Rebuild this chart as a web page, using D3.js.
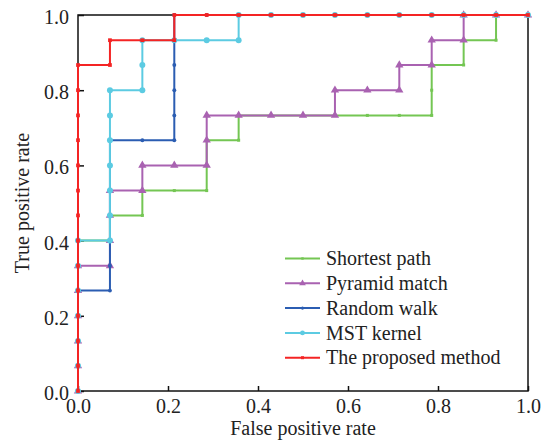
<!DOCTYPE html>
<html>
<head>
<meta charset="utf-8">
<script src="https://cdn.jsdelivr.net/npm/d3@7"></script>
<style>
  body { margin: 0; background: #fff; }
</style>
</head>
<body>
<script>
'use strict';

// ROC curve points [false positive rate, true positive rate]
const shortestPath = [
  [0, 0], [0, 0.067], [0, 0.133], [0, 0.2], [0, 0.267], [0, 0.333], [0, 0.4],
  [0.071, 0.4], [0.071, 0.467], [0.143, 0.467], [0.143, 0.533], [0.214, 0.533],
  [0.286, 0.533], [0.286, 0.6], [0.286, 0.667], [0.357, 0.667], [0.357, 0.733],
  [0.429, 0.733], [0.5, 0.733], [0.571, 0.733], [0.643, 0.733], [0.714, 0.733],
  [0.786, 0.733], [0.786, 0.8], [0.786, 0.867], [0.857, 0.867], [0.857, 0.933],
  [0.929, 0.933], [0.929, 1], [1, 1]
];
const pyramidMatch = [
  [0, 0], [0, 0.067], [0, 0.133], [0, 0.2], [0, 0.267], [0, 0.333],
  [0.071, 0.333], [0.071, 0.4], [0.071, 0.467], [0.071, 0.533], [0.143, 0.533],
  [0.143, 0.6], [0.214, 0.6], [0.286, 0.6], [0.286, 0.667], [0.286, 0.733],
  [0.357, 0.733], [0.429, 0.733], [0.5, 0.733], [0.571, 0.733], [0.571, 0.8],
  [0.643, 0.8], [0.714, 0.8], [0.714, 0.867], [0.786, 0.867], [0.786, 0.933],
  [0.857, 0.933], [0.857, 1], [0.929, 1], [1, 1]
];
const randomWalk = [
  [0, 0], [0, 0.067], [0, 0.133], [0, 0.2], [0, 0.267],
  [0.071, 0.267], [0.071, 0.333], [0.071, 0.4], [0.071, 0.467], [0.071, 0.533],
  [0.071, 0.6], [0.071, 0.667], [0.143, 0.667], [0.214, 0.667], [0.214, 0.733],
  [0.214, 0.8], [0.214, 0.867], [0.214, 0.933], [0.214, 1], [0.286, 1],
  [0.357, 1], [0.429, 1], [0.5, 1], [0.571, 1], [0.643, 1], [0.714, 1],
  [0.786, 1], [0.857, 1], [0.929, 1], [1, 1]
];
const mstKernel = [
  [0, 0], [0, 0.067], [0, 0.133], [0, 0.2], [0, 0.267], [0, 0.333], [0, 0.4],
  [0.071, 0.4], [0.071, 0.467], [0.071, 0.533], [0.071, 0.6], [0.071, 0.667],
  [0.071, 0.733], [0.071, 0.8], [0.143, 0.8], [0.143, 0.867], [0.143, 0.933],
  [0.214, 0.933], [0.286, 0.933], [0.357, 0.933], [0.357, 1], [0.429, 1],
  [0.5, 1], [0.571, 1], [0.643, 1], [0.714, 1], [0.786, 1], [0.857, 1],
  [0.929, 1], [1, 1]
];
const proposedMethod = [
  [0, 0], [0, 0.067], [0, 0.133], [0, 0.2], [0, 0.267], [0, 0.333], [0, 0.4],
  [0, 0.467], [0, 0.533], [0, 0.6], [0, 0.667], [0, 0.733], [0, 0.8], [0, 0.867],
  [0.071, 0.867], [0.071, 0.933], [0.143, 0.933], [0.214, 0.933], [0.214, 1],
  [0.286, 1], [0.357, 1], [0.429, 1], [0.5, 1], [0.571, 1], [0.643, 1],
  [0.714, 1], [0.786, 1], [0.857, 1], [0.929, 1], [1, 1]
];

const seriesNames = ["Shortest path", "Pyramid match", "Random walk", "MST kernel", "The proposed method"];
const seriesData = [shortestPath, pyramidMatch, randomWalk, mstKernel, proposedMethod];
const seriesColors = ["#74c653", "#a962b1", "#2b5db2", "#5ccbe2", "#f42424"];
const xTicks = [0, 0.2, 0.4, 0.6, 0.8, 1.0];
const yTicks = [0, 0.2, 0.4, 0.6, 0.8, 1.0];

const serifFont = "'Liberation Serif', 'Times New Roman', serif";

// marker shape per series
const markerShapes = [
  d3.symbol().type(d3.symbolSquare).size(9),
  d3.symbol().type(d3.symbolTriangle).size(30),
  d3.symbol().type(d3.symbolCircle).size(12),
  d3.symbol().type(d3.symbolCircle).size(28),
  d3.symbol().type(d3.symbolSquare).size(14)
];

const svg = d3.select('body')
  .append('svg')
  .attr('width', 552)
  .attr('height', 444)
  .style('font-family', serifFont);

const xScale = d3.scaleLinear().domain([0, 1]).range([78, 528]);
const yScale = d3.scaleLinear().domain([0, 1]).range([391, 15]);

// frame around plot area
svg.append('rect')
  .attr('x', xScale(0))
  .attr('y', yScale(1))
  .attr('width', xScale(1) - xScale(0))
  .attr('height', yScale(0) - yScale(1))
  .attr('fill', 'none')
  .attr('stroke', '#111')
  .attr('stroke-width', 1.5);

// x axis with inward ticks
const xAxis = d3.axisBottom(xScale)
  .tickValues(xTicks)
  .tickFormat(d3.format('.1f'))
  .tickSizeInner(-5)
  .tickSizeOuter(0)
  .tickPadding(8);
const gx = svg.append('g')
  .attr('transform', 'translate(0,' + yScale(0) + ')')
  .call(xAxis)
  .attr('font-family', null)
  .attr('font-size', null);
gx.select('.domain').remove();
gx.selectAll('line').attr('stroke', '#111').attr('stroke-width', 1.5);
gx.selectAll('text')
  .style('font-family', serifFont)
  .style('font-size', '20px')
  .attr('fill', '#222');

// y axis with inward ticks
const yAxis = d3.axisLeft(yScale)
  .tickValues(yTicks)
  .tickFormat(d3.format('.1f'))
  .tickSizeInner(-6)
  .tickSizeOuter(0)
  .tickPadding(9);
const gy = svg.append('g')
  .attr('transform', 'translate(' + xScale(0) + ',0)')
  .call(yAxis)
  .attr('font-family', null)
  .attr('font-size', null);
gy.select('.domain').remove();
gy.selectAll('line').attr('stroke', '#111').attr('stroke-width', 1.5);
gy.selectAll('text')
  .style('font-family', serifFont)
  .style('font-size', '20px')
  .attr('dy', '0.42em')
  .attr('fill', '#222');

// axis titles
svg.append('text')
  .attr('x', (xScale(0) + xScale(1)) / 2)
  .attr('y', 435)
  .attr('text-anchor', 'middle')
  .style('font-family', serifFont)
  .style('font-size', '20px')
  .attr('fill', '#222')
  .text('False positive rate');

svg.append('text')
  .attr('transform', 'translate(29,' + (yScale(0) + yScale(1)) / 2 + ')rotate(-90)')
  .attr('text-anchor', 'middle')
  .style('font-family', serifFont)
  .style('font-size', '20px')
  .attr('fill', '#222')
  .text('True positive rate');

// curves
const line = d3.line()
  .x(d => xScale(d[0]))
  .y(d => yScale(d[1]));

seriesData.forEach((pts, i) => {
  svg.append('path')
    .datum(pts)
    .attr('fill', 'none')
    .attr('stroke', seriesColors[i])
    .attr('stroke-width', 2)
    .attr('d', line);

  svg.selectAll('.m' + i)
    .data(pts)
    .enter()
    .append('path')
      .attr('class', 'm' + i)
      .attr('d', markerShapes[i])
      .attr('transform', d => 'translate(' + xScale(d[0]) + ',' + yScale(d[1]) + ')')
      .attr('fill', seriesColors[i]);
});

// legend
const legend = svg.append('g');
seriesNames.forEach((name, i) => {
  let ly = 258.5 + i * 24.8;
  legend.append('line')
    .attr('x1', 285).attr('x2', 320)
    .attr('y1', ly).attr('y2', ly)
    .attr('stroke', seriesColors[i])
    .attr('stroke-width', 2);
  legend.append('path')
    .attr('d', markerShapes[i])
    .attr('transform', 'translate(302.5,' + ly + ')scale(0.8)')
    .attr('fill', seriesColors[i]);
  legend.append('text')
    .attr('x', 326)
    .attr('y', ly)
    .attr('dy', '0.33em')
    .style('font-family', serifFont)
    .style('font-size', '20px')
    .attr('fill', '#222')
    .text(name);
});
</script>
</body>
</html>
